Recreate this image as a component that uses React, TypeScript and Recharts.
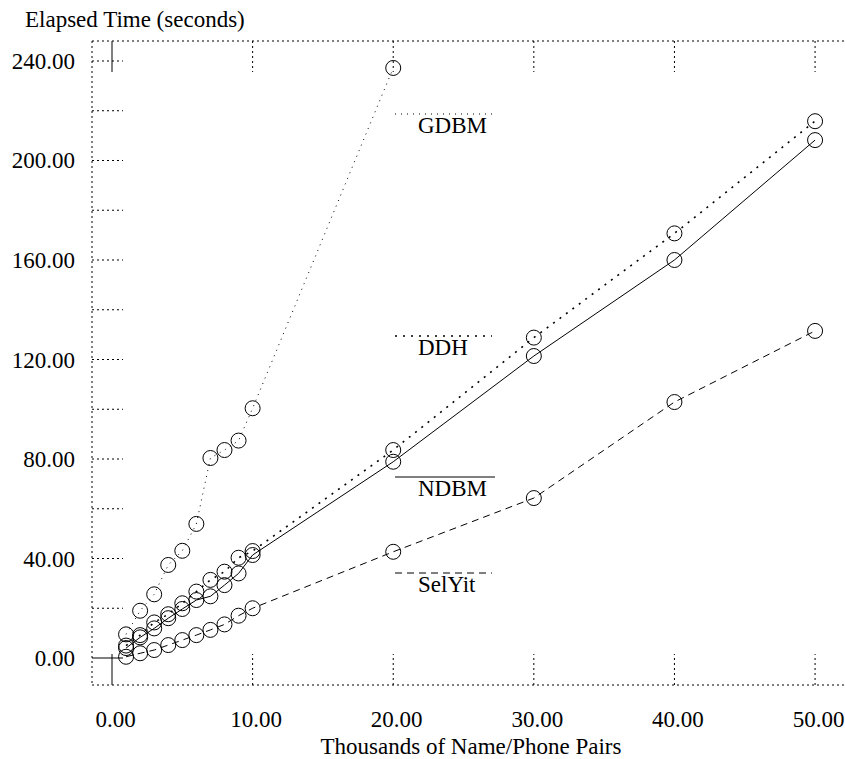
import { LineChart, Line, XAxis, YAxis, Label } from "recharts";

// thousands of name/phone pairs
const X_VALUES = [1, 2, 3, 4, 5, 6, 7, 8, 9, 10, 20, 30, 40, 50];

// elapsed seconds, one list per package (GDBM stops at 20k)
const GDBM = [9.5, 19, 25.6, 37.4, 43.1, 53.9, 80.4, 83.6, 87.4, 100.4, 237.2];
const DDH = [5, 9.2, 14.3, 17.6, 22, 26.7, 31.4, 34.7, 40.3, 43, 83.6, 128.8, 170.7, 215.8];
const NDBM = [4, 8.3, 11.9, 16, 19.7, 23.3, 24.8, 29.3, 34, 41.4, 78.9, 121.4, 160, 208.2];
const SELYIT = [0.5, 1.9, 3.2, 5.2, 7.2, 9.2, 11.3, 13.5, 17, 20, 42.7, 64.3, 102.9, 131.5];

const X_TICKS = [0, 10, 20, 30, 40, 50];
const Y_TICKS = [0, 20, 40, 60, 80, 100, 120, 140, 160, 180, 200, 220, 240];
const Y_LABELS = [0, 40, 80, 120, 160, 200, 240];

const X_TITLE = "Thousands of Name/Phone Pairs";
const Y_TITLE = "Elapsed Time (seconds)";

const data = X_VALUES.map((x, i) => ({
  x,
  gdbm: GDBM[i],
  ddh: DDH[i],
  ndbm: NDBM[i],
  selyit: SELYIT[i],
}));

// line look per series
const SERIES = [
  { key: "gdbm", name: "GDBM", dash: "1 5", width: 1, legendY: 114 },
  { key: "ddh", name: "DDH", dash: "2 6", width: 1.6, legendY: 336 },
  { key: "ndbm", name: "NDBM", dash: undefined, width: 1, legendY: 477 },
  { key: "selyit", name: "SelYit", dash: "7 5", width: 1, legendY: 573 },
];

const W = 846;
const H = 759;
const LEFT = 92;
const TOP = 41;
const BOTTOM = 685;
const RIGHT = 846;
const TICK = 31;
const FONT = "'Liberation Serif', 'Times New Roman', serif";
const FS = 23;
const GRID_DASH = "2 3";

const X_DOMAIN = [-1.4225, 52.2];
const Y_DOMAIN = [-10.854, 248.04];

function BottomTick(props: any) {
  const { x, payload } = props;
  const v = payload.value;
  return (
    <g>
      <line x1={x} x2={x} y1={BOTTOM} y2={BOTTOM - TICK} stroke="#000" strokeDasharray={v === 0 ? undefined : GRID_DASH} />
      <text x={x + 3.5} y={727} textAnchor="middle" fontSize={FS} fontFamily={FONT} fill="#000">
        {v.toFixed(2)}
      </text>
    </g>
  );
}

function TopTick(props: any) {
  const { x, payload } = props;
  return (
    <line x1={x} x2={x} y1={TOP} y2={TOP + TICK} stroke="#000" strokeDasharray={payload.value === 0 ? undefined : GRID_DASH} />
  );
}

function LeftTick(props: any) {
  const { y, payload } = props;
  const v = payload.value;
  return (
    <g>
      <line x1={LEFT} x2={LEFT + TICK} y1={y} y2={y} stroke="#000" strokeDasharray={v === 0 ? undefined : GRID_DASH} />
      {Y_LABELS.includes(v) && (
        <text x={75} y={y + 8} textAnchor="end" fontSize={FS} fontFamily={FONT} fill="#000">
          {v.toFixed(2)}
        </text>
      )}
    </g>
  );
}

function RightTick(props: any) {
  const { y, payload } = props;
  return (
    <line x1={RIGHT - TICK} x2={RIGHT} y1={y} y2={y} stroke="#000" strokeDasharray={payload.value === 0 ? undefined : GRID_DASH} />
  );
}

function Ring(props: any) {
  const { cx, cy, index, dataKey } = props;
  if (cx == null || cy == null || props.value == null) return <g key={`${dataKey}-${index}`} />;
  return <circle key={`${dataKey}-${index}`} cx={cx} cy={cy} r={7.5} fill="none" stroke="#000" strokeWidth={1} />;
}

export default function App() {
  return (
    <div
      style={{
        position: "absolute",
        left: 0,
        top: 0,
        width: 845,
        height: H,
        overflow: "hidden",
        background: "#fff",
        fontFamily: FONT,
      }}
    >
      <LineChart width={W} height={H} data={data} margin={{ top: 0, right: 0, bottom: 0, left: 0 }}>
        <XAxis
          dataKey="x"
          type="number"
          domain={X_DOMAIN}
          allowDataOverflow
          ticks={X_TICKS}
          interval={0}
          height={H - BOTTOM}
          tickLine={false}
          axisLine={{ stroke: "#000", strokeDasharray: GRID_DASH }}
          tick={<BottomTick />}
        >
          <Label
            content={() => (
              <text x={471} y={754} textAnchor="middle" fontSize={FS} fontFamily={FONT} fill="#000">
                {X_TITLE}
              </text>
            )}
          />
        </XAxis>
        <XAxis
          xAxisId="top"
          orientation="top"
          dataKey="x"
          type="number"
          domain={X_DOMAIN}
          allowDataOverflow
          ticks={X_TICKS}
          interval={0}
          height={TOP}
          tickLine={false}
          axisLine={{ stroke: "#000", strokeDasharray: GRID_DASH }}
          tick={<TopTick />}
        />
        <YAxis
          type="number"
          domain={Y_DOMAIN}
          allowDataOverflow
          ticks={Y_TICKS}
          interval={0}
          width={LEFT}
          tickLine={false}
          axisLine={{ stroke: "#000", strokeDasharray: GRID_DASH }}
          tick={<LeftTick />}
        >
          <Label
            content={() => (
              <text x={25} y={27} textAnchor="start" fontSize={FS} fontFamily={FONT} fill="#000">
                {Y_TITLE}
              </text>
            )}
          />
        </YAxis>
        <YAxis
          yAxisId="right"
          orientation="right"
          type="number"
          domain={Y_DOMAIN}
          allowDataOverflow
          ticks={Y_TICKS}
          interval={0}
          width={0}
          tickLine={false}
          axisLine={false}
          tick={<RightTick />}
        />
        {SERIES.map((s) => (
          <Line
            key={s.key}
            dataKey={s.key}
            name={s.name}
            type="linear"
            stroke="#000"
            strokeWidth={s.width}
            strokeDasharray={s.dash}
            dot={Ring}
            activeDot={false}
            isAnimationActive={false}
          />
        ))}
      </LineChart>
      <svg width={845} height={H} style={{ position: "absolute", left: 0, top: 0, pointerEvents: "none" }}>
        {SERIES.map((s) => (
          <g key={s.key}>
            <line x1={395} x2={s.dash ? 492 : 495} y1={s.legendY} y2={s.legendY} stroke="#000" strokeWidth={s.width} strokeDasharray={s.dash} />
            <text x={418} y={s.legendY + 18.5} fontSize={FS} fontFamily={FONT} fill="#000">
              {s.name}
            </text>
          </g>
        ))}
      </svg>
    </div>
  );
}
